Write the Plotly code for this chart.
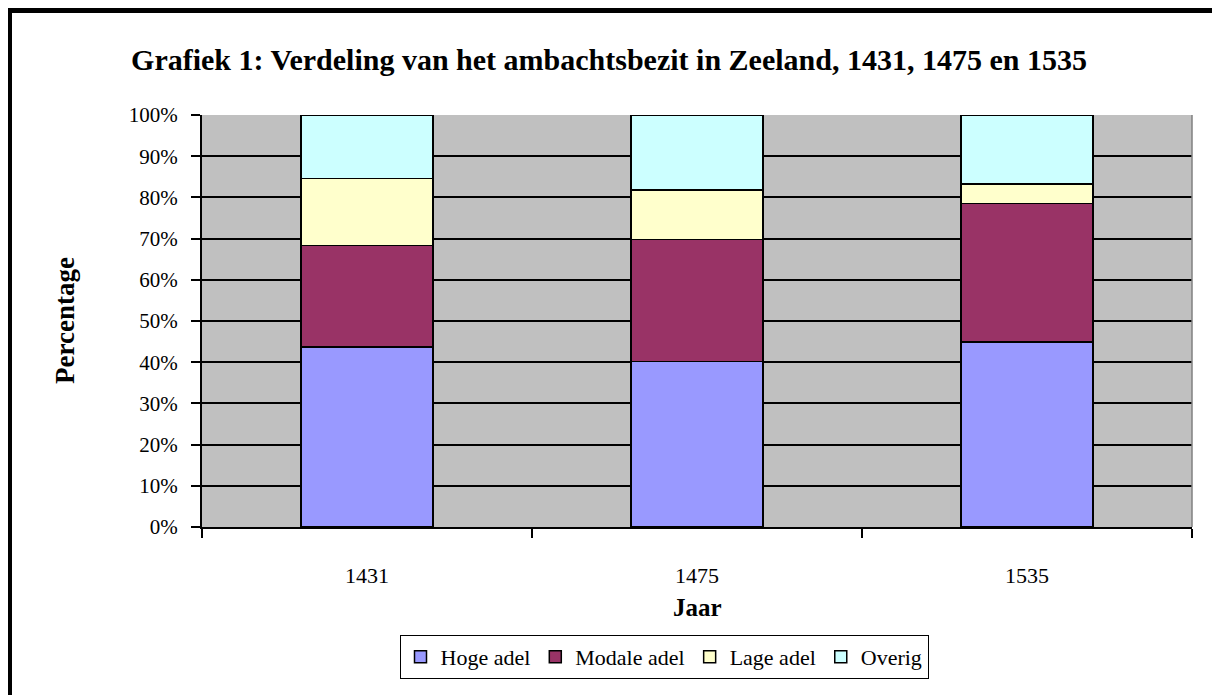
import plotly.graph_objects as go

# Data (percentages)
years = ["1431", "1475", "1535"]
hoge_adel = [43.7, 40.2, 44.9]
modale_adel = [24.6, 29.6, 33.6]
lage_adel = [16.3, 12.0, 4.7]
overig = [15.4, 18.2, 16.8]

series_names = ["Hoge adel", "Modale adel", "Lage adel", "Overig"]
series_values = [hoge_adel, modale_adel, lage_adel, overig]
series_colors = ["#9999FF", "#993366", "#FFFFCC", "#CCFFFF"]

y_ticks = list(range(0, 101, 10))
y_tick_labels = [f"{v}%" for v in y_ticks]

# page has an 8px body margin; work in page pixels and convert
OFF = 8
W, H = 1220 - OFF, 695 - OFF
L, R, T, B = 202, 1192, 115, 527  # plot-area box in page pixels
pw, ph = R - L, B - T


def px_x(x):
    return (x - L) / pw


def px_y(y):
    return (B - y) / ph


SERIF = "Liberation Serif, Times New Roman, serif"

fig = go.Figure()
for name, vals, col in zip(series_names, series_values, series_colors):
    fig.add_trace(go.Bar(
        x=years, y=vals, name=name,
        marker=dict(color=col, line=dict(color="black", width=1.5)),
        width=0.4,
    ))

fig.update_layout(
    barmode="stack",
    width=W, height=H,
    margin=dict(l=L - OFF, r=W - (R - OFF), t=T - OFF, b=H - (B - OFF), pad=0),
    paper_bgcolor="white",
    plot_bgcolor="#C0C0C0",
    font=dict(family=SERIF, size=21, color="black"),
    title=dict(
        text="<b>Grafiek 1: Verdeling van het ambachtsbezit in Zeeland, 1431, 1475 en 1535</b>",
        x=(609 - OFF) / W, xref="container", xanchor="center",
        y=1 - (59 - OFF) / H, yref="container", yanchor="middle",
        font=dict(family=SERIF, size=30, color="black"),
    ),
    showlegend=True,
    legend=dict(
        orientation="h",
        x=px_x(664), xanchor="center",
        y=px_y(635), yanchor="top",
        bgcolor="white", bordercolor="black", borderwidth=1,
        font=dict(family=SERIF, size=22, color="black"),
        traceorder="normal",
        itemwidth=30,
    ),
    xaxis=dict(
        type="category",
        showgrid=False,
        showline=True, linecolor="black", linewidth=2,
        ticks="outside", tickson="boundaries", ticklen=9, tickwidth=2, tickcolor="black",
        tickfont=dict(family=SERIF, size=22, color="black"),
        ticklabelstandoff=28,
    ),
    yaxis=dict(
        range=[0, 100],
        tickvals=y_ticks, ticktext=y_tick_labels,
        showgrid=True, gridcolor="black", gridwidth=2,
        showline=True, linecolor="black", linewidth=2,
        ticks="outside", ticklen=9, tickwidth=2, tickcolor="black",
        tickfont=dict(family=SERIF, size=21, color="black"),
        ticklabelstandoff=9,
        zeroline=False,
    ),
    annotations=[
        dict(text="<b>Percentage</b>", textangle=-90, x=px_x(65), y=px_y(321),
             xref="paper", yref="paper", showarrow=False,
             xanchor="center", yanchor="middle",
             font=dict(family=SERIF, size=27, color="black")),
        dict(text="<b>Jaar</b>", x=px_x(697), y=px_y(607),
             xref="paper", yref="paper", showarrow=False,
             xanchor="center", yanchor="middle",
             font=dict(family=SERIF, size=25, color="black")),
    ],
    shapes=[
        # right edge of plot area
        dict(type="line", xref="paper", yref="paper", x0=1, x1=1, y0=0, y1=1,
             line=dict(color="#808080", width=1.5)),
        # outer chart border (extends beyond the visible window at right/bottom)
        dict(type="line", xref="paper", yref="paper",
             x0=px_x(9.5), x1=px_x(1240), y0=px_y(10.5), y1=px_y(10.5),
             line=dict(color="black", width=5)),
        dict(type="line", xref="paper", yref="paper",
             x0=px_x(9.5), x1=px_x(9.5), y0=px_y(8), y1=px_y(720),
             line=dict(color="black", width=5)),
    ],
)

fig.write_html("out.html")
